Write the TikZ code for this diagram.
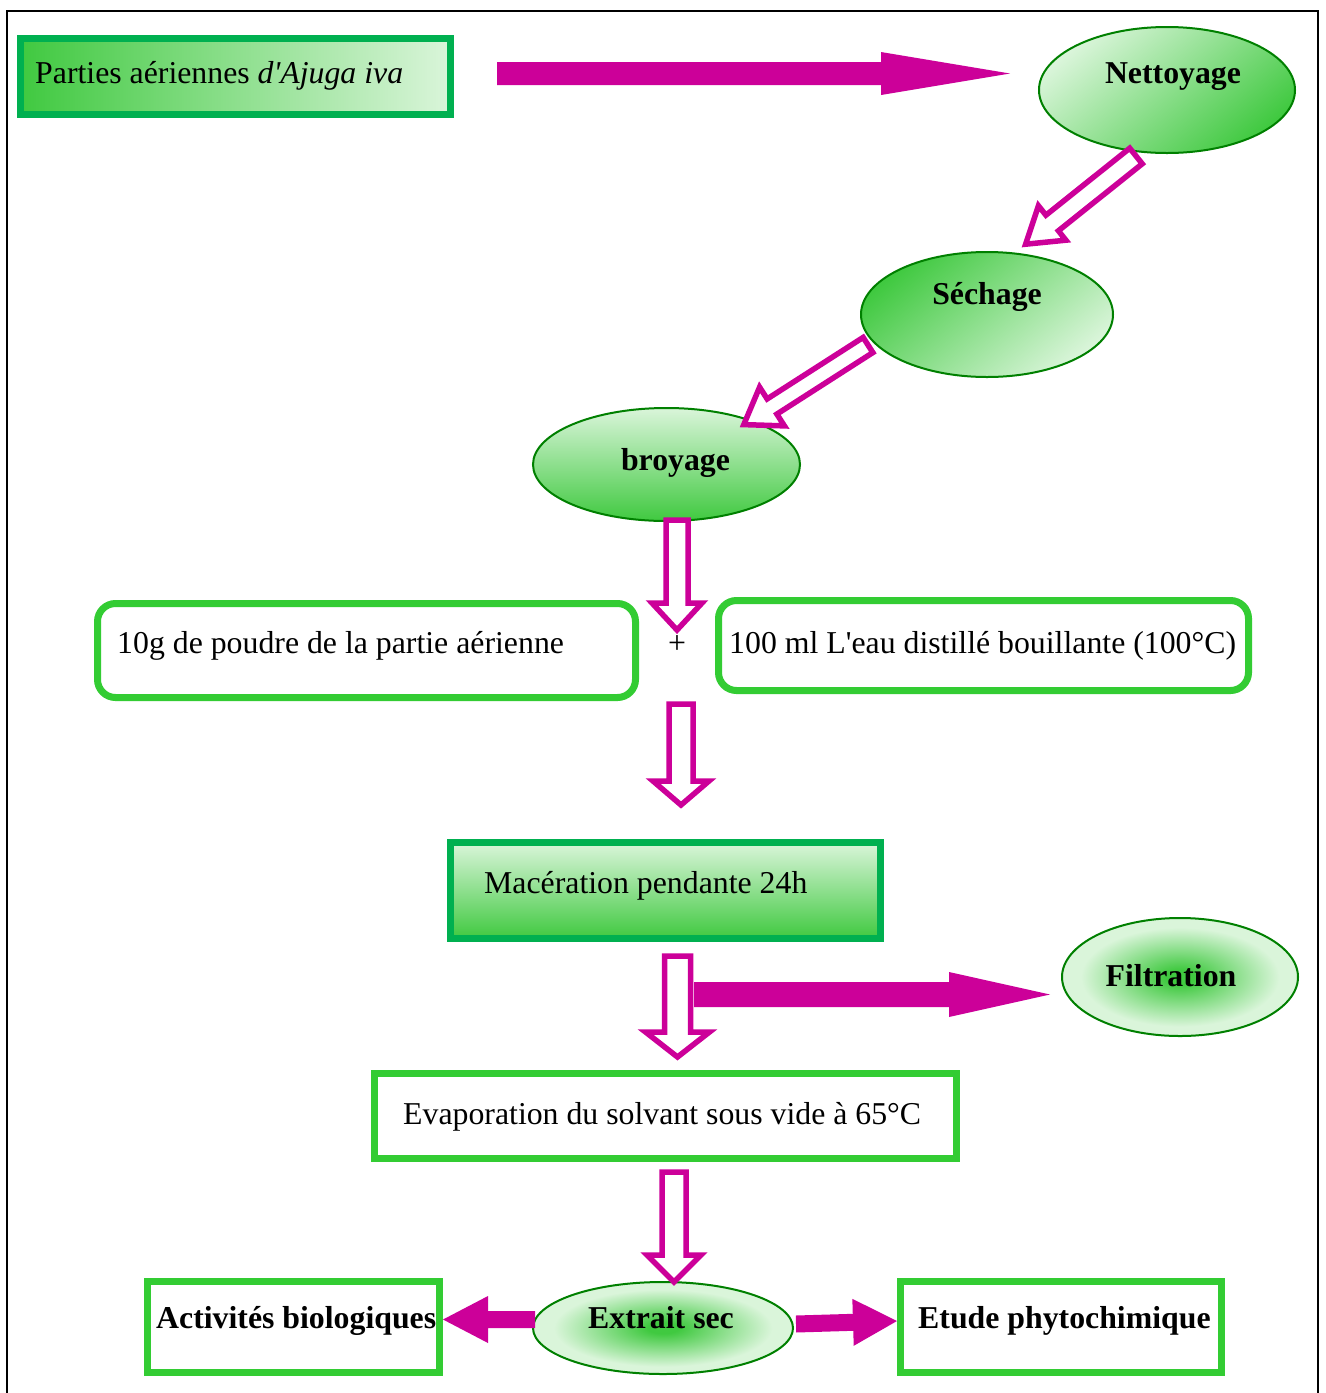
\documentclass[tikz,border=0pt]{standalone}
\usepackage{fontspec}
\setmainfont{Liberation Serif}
\newfontfamily\plainrm{Liberation Serif}
\usetikzlibrary{shapes.geometric,calc}
\definecolor{mag}{HTML}{CC0099}
\definecolor{dkgreen}{HTML}{00B050}
\definecolor{lime}{HTML}{33CC33}
\definecolor{elborder}{HTML}{008000}
\definecolor{pale}{HTML}{DAF5DA}
\definecolor{fillgreen}{HTML}{40C940}
\pgfdeclareradialshading{spot}{\pgfpoint{0bp}{0bp}}{color(0bp)=(fillgreen); color(3bp)=(fillgreen); color(21bp)=(pale); color(50bp)=(pale)}
% #1 style, #2 start, #3 tip, #4 half shaft width, #5 half head width, #6 head length
\newcommand{\blockarrow}[6]{%
  \coordinate (ba-n) at ($(#3)!#6!(#2)$);
  \path[#1] ($(#2)!#4!90:(#3)$) -- ($(ba-n)!#4!90:(#3)$) -- ($(ba-n)!#5!90:(#3)$) -- (#3)
    -- ($(ba-n)!#5!-90:(#3)$) -- ($(ba-n)!#4!-90:(#3)$) -- ($(#2)!#4!-90:(#3)$) -- cycle;}
\begin{document}
\begin{tikzpicture}[x=1pt,y=-1pt,
  txt/.style={inner sep=0pt, font=\fontsize{31.8}{38}\selectfont},
  btxt/.style={inner sep=0pt, font=\fontsize{31.8}{38}\selectfont\bfseries},
  elnode/.style={ellipse, draw=elborder, line width=2pt, inner sep=0pt},
  sqbox/.style={rectangle, line width=7pt, inner sep=0pt},
  rbox/.style={rectangle, rounded corners=18pt, draw=lime, line width=7pt, inner sep=0pt, fill=white},
  hollowarrow/.style={draw=mag, fill=white, line width=5.5pt, line join=miter, miter limit=10},
  solidarrow/.style={fill=mag, draw=none},
]
\useasboundingbox (0,0) rectangle (1326,1393);
\fill[white] (0,0) rectangle (1326,1393);
\draw[line width=2pt] (7,1393) -- (7,11) -- (1318,11) -- (1318,1393);

% boxes
\node[sqbox, draw=dkgreen, left color=fillgreen, right color=pale, minimum width=430pt, minimum height=76pt] (b1) at (235.5,76.5) {};
\node[rbox, minimum width=538pt, minimum height=94pt] (poudre) at (366.5,650.5) {};
\node[rbox, minimum width=530pt, minimum height=90pt] (eau) at (983.5,645.5) {};
\node[sqbox, draw=dkgreen, top color=pale, bottom color=fillgreen, minimum width=430pt, minimum height=96pt] (mac) at (665.5,890.5) {};
\node[sqbox, draw=lime, fill=white, minimum width=582pt, minimum height=85pt] (evap) at (665.5,1116) {};
\node[sqbox, draw=lime, fill=white, minimum width=292pt, minimum height=91pt] (act) at (293.5,1327) {};
\node[sqbox, draw=lime, fill=white, minimum width=321pt, minimum height=91pt] (etude) at (1061,1327) {};

% ellipses
\node[elnode, minimum width=256pt, minimum height=126pt, top color=pale, bottom color=fillgreen, shading angle=40] (nett) at (1167,90) {};
\node[elnode, minimum width=252pt, minimum height=125pt, top color=fillgreen, bottom color=pale, shading angle=40] (sech) at (987,314.5) {};
\node[elnode, minimum width=267pt, minimum height=113pt, top color=pale, bottom color=fillgreen] (broy) at (666.5,464.5) {};
\node[elnode, minimum width=236pt, minimum height=118pt, shading=spot] (filt) at (1180,977) {};
\node[elnode, minimum width=260pt, minimum height=92pt, shading=spot] (extr) at (663,1328) {};

% texts
\node[txt, anchor=base west] (t1) at (35,83) {Parties aériennes \textit{d{\plainrm'}Ajuga iva}};
\node[btxt, anchor=base] (tnett) at (1173,83) {Nettoyage};
\node[btxt, anchor=base] (tsech) at (987,304) {Séchage};
\node[btxt, anchor=base] (tbroy) at (675.5,470) {broyage};
\node[txt, anchor=base west] (tpoudre) at (117,653) {10g de poudre de la partie aérienne};
\node[txt, anchor=base] (tplus) at (677,653) {+};
\node[txt, anchor=base west] (teau) at (729,653) {100 ml L{\plainrm'}eau distillé bouillante (100°C)};
\node[txt, anchor=base west] (tmac) at (484,893) {Macération pendante 24h};
\node[btxt, anchor=base] (tfilt) at (1171,986) {Filtration};
\node[txt, anchor=base west] (tevap) at (403,1124) {Evaporation du solvant sous vide à 65°C};
\node[btxt, anchor=base] (textr) at (661,1328) {Extrait sec};
\node[btxt, anchor=base west] (tact) at (156,1328) {Activités biologiques};
\node[btxt, anchor=base west] (tetude) at (918,1328) {Etude phytochimique};

% arrow end points
\coordinate (a1s) at (497,73.5);   \coordinate (a1e) at (1010,73.5);
\coordinate (a2s) at (1136,156);   \coordinate (a2e) at (1025.6,244.2);
\coordinate (a3s) at (868,345);    \coordinate (a3e) at (743.8,424.6);
\coordinate (a4s) at (677,520);    \coordinate (a4e) at (677,630);
\coordinate (a5s) at (681,704);    \coordinate (a5e) at (681,805);
\coordinate (a6s) at (677.5,956);  \coordinate (a6e) at (677.5,1057);
\coordinate (afs) at (694,994.5);  \coordinate (afe) at (1050,994.5);
\coordinate (a7s) at (674,1172);   \coordinate (a7e) at (674,1282);
\coordinate (als) at (535,1319.5); \coordinate (ale) at (443,1319.5);
\coordinate (ars) at (796,1324);   \coordinate (are) at (897,1321);

\blockarrow{solidarrow}{a1s}{a1e}{11.5pt}{21.5pt}{129pt}
\blockarrow{hollowarrow}{a2s}{a2e}{10pt}{22pt}{34pt}
\blockarrow{hollowarrow}{a3s}{a3e}{9pt}{23pt}{33.5pt}
\blockarrow{hollowarrow}{a4s}{a4e}{11pt}{25pt}{27pt}
\blockarrow{hollowarrow}{a5s}{a5e}{12pt}{28pt}{24pt}
\blockarrow{hollowarrow}{a6s}{a6e}{13pt}{32pt}{25pt}
\blockarrow{solidarrow}{afs}{afe}{12.5pt}{22.5pt}{101pt}
\blockarrow{hollowarrow}{a7s}{a7e}{12pt}{27pt}{27pt}
\blockarrow{solidarrow}{als}{ale}{8.5pt}{23.5pt}{45pt}
\blockarrow{solidarrow}{ars}{are}{8.5pt}{23.5pt}{44pt}
\end{tikzpicture}
\end{document}
